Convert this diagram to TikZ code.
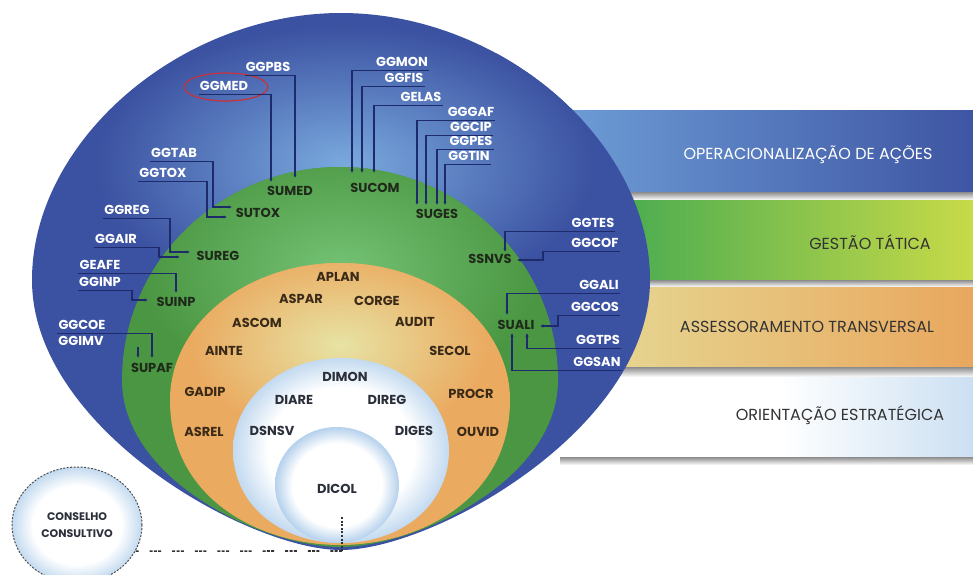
\documentclass[tikz,border=0pt]{standalone}
\usepackage{fontspec}
\setmainfont{Poppins}
\usetikzlibrary{arrows.meta,shapes.geometric}

\definecolor{bluebase}{HTML}{3B51A1}
\definecolor{bluelight}{HTML}{7AAADE}
\definecolor{greenbase}{HTML}{4A9642}
\definecolor{greenlight}{HTML}{74C274}
\definecolor{orangebase}{HTML}{EAAA60}
\definecolor{orangelight}{HTML}{E7E3A4}
\definecolor{wedge}{HTML}{C3DAF0}
\definecolor{dicoledge}{HTML}{B5D1EC}
\definecolor{navy}{HTML}{1D2A6B}
\definecolor{gtxt}{HTML}{1F2A1A}
\definecolor{otxt}{HTML}{3A2A17}
\definecolor{dtxt}{HTML}{2B2F3A}
\definecolor{opL}{HTML}{6D9DD6}
\definecolor{opR}{HTML}{3E55A3}
\definecolor{gtL}{HTML}{34A452}
\definecolor{gtR}{HTML}{C8DA48}
\definecolor{asL}{HTML}{E5DC98}
\definecolor{asR}{HTML}{E9A75E}
\definecolor{orR}{HTML}{CCE0F2}
\definecolor{shd}{HTML}{8C8C8C}
\definecolor{medring}{HTML}{C8323A}

% soft-edged light fills
\pgfdeclareradialshading{paleglow}{\pgfpoint{0bp}{0bp}}{color(0bp)=(white); color(17bp)=(white); color(25bp)=(wedge); color(50bp)=(wedge)}
\pgfdeclareradialshading{dicolglow}{\pgfpoint{0bp}{0bp}}{color(0bp)=(white); color(18bp)=(white); color(25bp)=(dicoledge); color(50bp)=(dicoledge)}

% egg outline: cx, rx, top, widest y, bottom, bottom x-factor, bottom y-factor,
% top x-factor, top y-factor
\newcommand\eggpath[9]{%
 ({#1-#2},#4) .. controls ({#1-#2},{#4-#9*(#4-#3)}) and ({#1-#8*#2},#3) .. (#1,#3)
 .. controls ({#1+#8*#2},#3) and ({#1+#2},{#4-#9*(#4-#3)}) .. ({#1+#2},#4)
 .. controls ({#1+#2},{#4+#7*(#5-#4)}) and ({#1+#6*#2},#5) .. (#1,#5)
 .. controls ({#1-#6*#2},#5) and ({#1-#2},{#4+#7*(#5-#4)}) .. cycle}

\newcommand\blueegg{\eggpath{341}{309}{13}{280}{550}{0.3}{0.55}{0.52}{0.52}}
\newcommand\greenegg{\eggpath{340}{218}{167}{380}{547}{0.35}{0.6}{0.552}{0.552}}
\newcommand\orangeegg{\eggpath{340}{170}{263}{400}{545}{0.45}{0.7}{0.552}{0.552}}
\newcommand\coreegg{\eggpath{341}{108}{358}{450}{543}{0.55}{0.6}{0.552}{0.552}}

\tikzset{
 lbl/.style={font=\fontsize{13}{13}\selectfont\bfseries, inner xsep=1pt, inner ysep=3.8pt, text height=9.2pt, text depth=0pt},
 wl/.style={lbl, text=white},
 gl/.style={lbl, text=gtxt},
 ol/.style={lbl, text=otxt},
 dl/.style={lbl, text=dtxt},
 bandtxt/.style={font=\fontsize{16}{16}\selectfont, inner sep=0pt},
 con/.style={draw=navy, line width=1.1pt, -{Latex[length=3.5pt,width=3.5pt]}},
 dotv/.style={draw=black!80, line width=1.6pt, dash pattern=on 2pt off 1.6pt},
 dashh/.style={draw=black!80, line width=1.6pt, dash pattern=on 3pt off 1.3pt on 3pt off 1.3pt on 3pt off 11pt},
 shadowstrip/.style={top color=shd, bottom color=white},
}

\begin{document}
\begin{tikzpicture}[x=1pt,y=-1pt]
\useasboundingbox (0,0) rectangle (973,574);
\fill[white] (0,0) rectangle (973,574);

% ---- level bands on the right ----
\shade[left color=opL, right color=opR] (560,110) rectangle (973,192);
\shade[shadowstrip] (560,192) rectangle (973,200);
\shade[left color=gtL, right color=gtR] (560,200) rectangle (973,280);
\shade[shadowstrip] (560,280) rectangle (973,287);
\shade[left color=asL, right color=asR] (560,287) rectangle (973,367);
\shade[shadowstrip] (560,367) rectangle (973,377);
\fill[white] (560,377) rectangle (780,457);
\shade[left color=white, right color=orR] (780,377) rectangle (973,457);
\shade[shadowstrip] (560,457) rectangle (973,465);

\node[bandtxt, text=white] (opacoes) at (808,155) {OPERACIONALIZAÇÃO DE AÇÕES};
\node[bandtxt, text=black!80] (gestao) at (870,242) {GESTÃO TÁTICA};
\node[bandtxt, text=black!80] (assess) at (807,327) {ASSESSORAMENTO TRANSVERSAL};
\node[bandtxt, text=black!80] (orient) at (840,415) {ORIENTAÇÃO ESTRATÉGICA};

% ---- nested eggs ----
\fill[bluebase] \blueegg;
\begin{scope}
 \clip \blueegg;
 \shade[inner color=bluelight, outer color=bluebase] (345,165) ellipse [x radius=250pt, y radius=140pt];
\end{scope}

\fill[greenbase] \greenegg;
\begin{scope}
 \clip \greenegg;
 \shade[inner color=greenlight, outer color=greenbase] (340,270) ellipse [x radius=200pt, y radius=130pt];
\end{scope}

\fill[orangebase] \orangeegg;
\begin{scope}
 \clip \orangeegg;
 \shade[inner color=orangelight, outer color=orangebase] (340,345) ellipse [x radius=150pt, y radius=95pt];
\end{scope}

\shade[shading=paleglow] \coreegg;

\shade[shading=dicolglow] (337,485) ellipse [x radius=62pt, y radius=58pt];

% ---- advisory council ----
\node[ellipse, minimum width=130pt, minimum height=116pt, shade, shading=paleglow,
      draw=black!70, line width=1pt, dash pattern=on 2pt off 1.5pt,
      font=\fontsize{11}{17}\selectfont\bfseries, text=dtxt, align=center, inner sep=0pt]
      (conselho) at (77,525) {CONSELHO\\CONSULTIVO};

% ---- blue ring: general managements ----
\node[wl] (ggpbs) at (268,67) {GGPBS};
\node[wl] (ggmed) at (224,86) {GGMED};
\node[wl] (ggtab) at (174,153) {GGTAB};
\node[wl] (ggtox) at (163,173) {GGTOX};
\node[wl] (ggreg) at (127,210) {GGREG};
\node[wl] (ggair) at (116,239) {GGAIR};
\node[wl] (geafe) at (100,265) {GEAFE};
\node[wl] (gginp) at (100,282) {GGINP};
\node[wl] (ggcoe) at (82,325) {GGCOE};
\node[wl] (ggimv) at (81,341) {GGIMV};
\node[wl] (ggmon) at (402,62) {GGMON};
\node[wl] (ggfis) at (404,78) {GGFIS};
\node[wl] (gelas) at (421,97) {GELAS};
\node[wl] (gggaf) at (471,112) {GGGAF};
\node[wl] (ggcip) at (471,127) {GGCIP};
\node[wl] (ggpes) at (471,141) {GGPES};
\node[wl] (ggtin) at (469,156) {GGTIN};
\node[wl] (ggtes) at (593,223) {GGTES};
\node[wl] (ggcof) at (595,243) {GGCOF};
\node[wl] (ggali) at (599,285) {GGALI};
\node[wl] (ggcos) at (595,307) {GGCOS};
\node[wl] (ggtps) at (598,340) {GGTPS};
\node[wl] (ggsan) at (597,362) {GGSAN};

\draw[medring, line width=1.2pt] (226,87) ellipse [x radius=42pt, y radius=14pt];

% ---- green ring: superintendencies ----
\node[gl] (sumed) at (290,191) {SUMED};
\node[gl] (sutox) at (258,213) {SUTOX};
\node[gl] (sureg) at (218,256) {SUREG};
\node[gl] (suinp) at (176,302) {SUINP};
\node[gl] (supaf) at (152,368) {SUPAF};
\node[gl] (sucom) at (375,188) {SUCOM};
\node[gl] (suges) at (437,214) {SUGES};
\node[gl] (ssnvs) at (490,259) {SSNVS};
\node[gl] (suali) at (516,325) {SUALI};

% ---- orange ring: advisory units ----
\node[ol] (aplan) at (338,277) {APLAN};
\node[ol] (aspar) at (301,299) {ASPAR};
\node[ol] (corge) at (377,301) {CORGE};
\node[ol] (ascom) at (257,323) {ASCOM};
\node[ol] (audit) at (415,322) {AUDIT};
\node[ol] (ainte) at (224,351) {AINTE};
\node[ol] (secol) at (450,351) {SECOL};
\node[ol] (gadip) at (205,392) {GADIP};
\node[ol] (procr) at (471,394) {PROCR};
\node[ol] (asrel) at (204,432) {ASREL};
\node[ol] (ouvid) at (478,432) {OUVID};

% ---- inner core: directorates ----
\node[dl] (dimon) at (345,377) {DIMON};
\node[dl] (diare) at (294,400) {DIARE};
\node[dl] (direg) at (387,400) {DIREG};
\node[dl] (dsnsv) at (272,431) {DSNSV};
\node[dl] (diges) at (414,431) {DIGES};
\node[dl] (dicol) at (337,489) {DICOL};

% ---- connector end points ----
\coordinate (sumed-a) at (271,182);
\coordinate (sumed-b) at (295,178);
\coordinate (sutox-a) at (232,207);
\coordinate (sutox-b) at (227,217);
\coordinate (sureg-a) at (190,252);
\coordinate (sureg-b) at (180,257);
\coordinate (suinp-a) at (176,293);
\coordinate (suinp-b) at (148,300);
\coordinate (supaf-a) at (152,358);
\coordinate (supaf-b) at (138,358);
\coordinate (supaf-c) at (138,347);
\coordinate (sucom-a) at (352,173);
\coordinate (sucom-b) at (362,173);
\coordinate (sucom-c) at (374,173);
\coordinate (suges-a) at (417,205);
\coordinate (suges-b) at (426,205);
\coordinate (suges-c) at (437,205);
\coordinate (suges-d) at (445,205);
\coordinate (ssnvs-a) at (505,252);
\coordinate (ssnvs-b) at (517,260);
\coordinate (suali-a) at (507,315);
\coordinate (suali-b) at (540,326);
\coordinate (suali-c) at (527,333);
\coordinate (suali-d) at (512,333);
\coordinate (dicol-tail) at (342,517);
\coordinate (dicol-foot) at (342,551);

% ---- connectors ----
\draw[con] (ggmed.south west) -| (sumed-a);
\draw[con] (ggpbs.south west) -| (sumed-b);
\draw[con] (ggtab.south west) -| (213,207) -- (sutox-a);
\draw[con] (ggtox.south west) -| (207,217) -- (sutox-b);
\draw[con] (ggreg.south west) -| (170,252) -- (sureg-a);
\draw[con] (ggair.south west) -| (159,257) -- (sureg-b);
\draw[con] (geafe.south west) -| (suinp-a);
\draw[con] (gginp.south west) -| (132,300) -- (suinp-b);
\draw[con] (ggcoe.south west) -| (supaf-a);
\draw[con] (supaf-c) -- (supaf-b);
\draw[con] (ggmon.south east) -| (sucom-a);
\draw[con] (ggfis.south east) -| (sucom-b);
\draw[con] (gelas.south east) -| (sucom-c);
\draw[con] (gggaf.south east) -| (suges-a);
\draw[con] (ggcip.south east) -| (suges-b);
\draw[con] (ggpes.south east) -| (suges-c);
\draw[con] (ggtin.south east) -| (suges-d);
\draw[con] (ggtes.south east) -| (ssnvs-a);
\draw[con] (ggcof.south east) -| (543,260) -- (ssnvs-b);
\draw[con] (ggali.south east) -| (suali-a);
\draw[con] (ggcos.south east) -| (558,326) -- (suali-b);
\draw[con] (ggtps.south east) -| (suali-c);
\draw[con] (ggsan.south east) -| (suali-d);

\draw[dotv] (dicol-tail) -- (dicol-foot);
\draw[dashh] (dicol-foot) -- (conselho.-24);
\end{tikzpicture}
\end{document}
